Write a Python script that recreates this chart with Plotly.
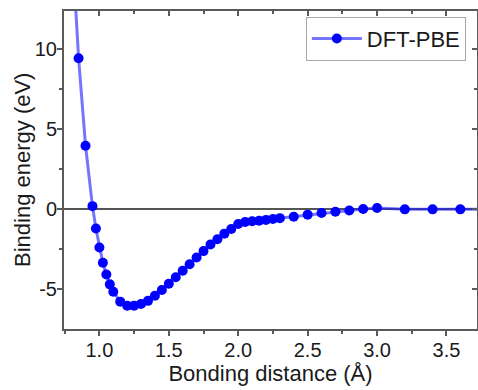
import plotly.graph_objects as go

distance = [0.80, 0.85, 0.90, 0.95, 0.975, 1.0, 1.025, 1.05, 1.075, 1.1,
            1.15, 1.2, 1.25, 1.3, 1.35, 1.4, 1.45, 1.5, 1.55, 1.6, 1.65,
            1.7, 1.75, 1.8, 1.85, 1.9, 1.95, 2.0, 2.05, 2.1, 2.15, 2.2,
            2.25, 2.3, 2.4, 2.5, 2.6, 2.7, 2.8, 2.9, 3.0, 3.2, 3.4, 3.6, 3.8]
energy = [17.0, 9.45, 3.98, 0.2, -1.2, -2.38, -3.34, -4.07, -4.69, -5.15,
          -5.77, -6.02, -6.02, -5.92, -5.72, -5.4, -5.04, -4.65, -4.24, -3.84, -3.43,
          -3.01, -2.61, -2.2, -1.87, -1.52, -1.23, -0.92, -0.79, -0.74, -0.71, -0.66,
          -0.6, -0.55, -0.46, -0.33, -0.23, -0.15, -0.07, 0.02, 0.08, 0.0, 0.0, 0.0, 0.0]
series_name = "DFT-PBE"
x_ticks = [1.0, 1.5, 2.0, 2.5, 3.0, 3.5]
x_ticklabels = ["1.0", "1.5", "2.0", "2.5", "3.0", "3.5"]
y_ticks = [-5, 0, 5, 10]
y_ticklabels = ["-5", "0", "5", "10"]
x_title = "Bonding distance (Å)"
y_title = "Binding energy (eV)"

XR = [0.745, 3.72]
YR = [-7.48, 12.4]
AX = "#5a5a5a"
FONT = "Liberation Sans, Arial, sans-serif"

fig = go.Figure()
fig.add_trace(go.Scatter(
    x=distance, y=energy, mode="lines+markers", name=series_name,
    line=dict(color="rgba(30,30,255,0.62)", width=3),
    marker=dict(color="#0000ff", size=10, line=dict(width=0)),
))

fig.update_layout(
    width=478, height=390,
    margin=dict(l=64, r=1, t=11, b=61, autoexpand=False),
    paper_bgcolor="white", plot_bgcolor="white",
    font=dict(family=FONT, size=20, color="#1a1a1a"),
    showlegend=True,
    legend=dict(x=0.973, y=0.982, xanchor="right", yanchor="top",
                bordercolor="#a8a8a8", borderwidth=1, bgcolor="white",
                font=dict(size=22, color="#1a1a1a"), itemwidth=50,
                tracegroupgap=0),
    xaxis=dict(range=XR, tickvals=x_ticks, ticktext=x_ticklabels, automargin=False,
               showline=True, linecolor=AX, linewidth=2, ticks="outside",
               ticklen=5, tickwidth=1.5, tickcolor=AX, showgrid=False,
               zeroline=False, ticklabelstandoff=-3,
               minor=dict(dtick=0.25, tick0=0.75, ticks="outside", ticklen=3, tickcolor=AX, tickwidth=1.5),
               title=dict(text=x_title, font=dict(size=22), standoff=2)),
    yaxis=dict(range=YR, tickvals=y_ticks, ticktext=y_ticklabels, automargin=False,
               showline=True, linecolor=AX, linewidth=2, ticks="outside",
               ticklen=5, tickwidth=1.5, tickcolor=AX, showgrid=False,
               zeroline=True, zerolinecolor="#555555", zerolinewidth=2,
               ticklabelstandoff=-4,
               minor=dict(dtick=2.5, tick0=0, ticks="outside", ticklen=3, tickcolor=AX, tickwidth=1.5)),
    xaxis2=dict(overlaying="x", side="top", range=XR, tickvals=x_ticks, automargin=False,
                showticklabels=False, showline=True, linecolor=AX, linewidth=2,
                ticks="inside", ticklen=5, tickwidth=1.5, tickcolor=AX,
                showgrid=False, zeroline=False,
                minor=dict(dtick=0.25, tick0=0.75, ticks="inside", ticklen=3, tickcolor=AX, tickwidth=1.5)),
    yaxis2=dict(overlaying="y", side="right", range=YR, tickvals=y_ticks, automargin=False,
                showticklabels=False, showline=True, linecolor=AX, linewidth=2,
                ticks="inside", ticklen=5, tickwidth=1.5, tickcolor=AX,
                showgrid=False, zeroline=False,
                minor=dict(dtick=2.5, tick0=0, ticks="inside", ticklen=3, tickcolor=AX, tickwidth=1.5)),
    annotations=[dict(text=y_title, textangle=-90, xref="paper", yref="paper",
                      x=0, y=0.5, xanchor="center", yanchor="middle", xshift=-42,
                      showarrow=False, font=dict(size=22, color="#1a1a1a"))],
)
fig.add_trace(go.Scatter(x=[None], y=[None], xaxis="x2", yaxis="y2",
                         showlegend=False, hoverinfo="skip"))

fig.write_html("out.html", config={"displayModeBar": False},
               post_script="document.body.style.margin='0';document.body.style.overflow='hidden';")
